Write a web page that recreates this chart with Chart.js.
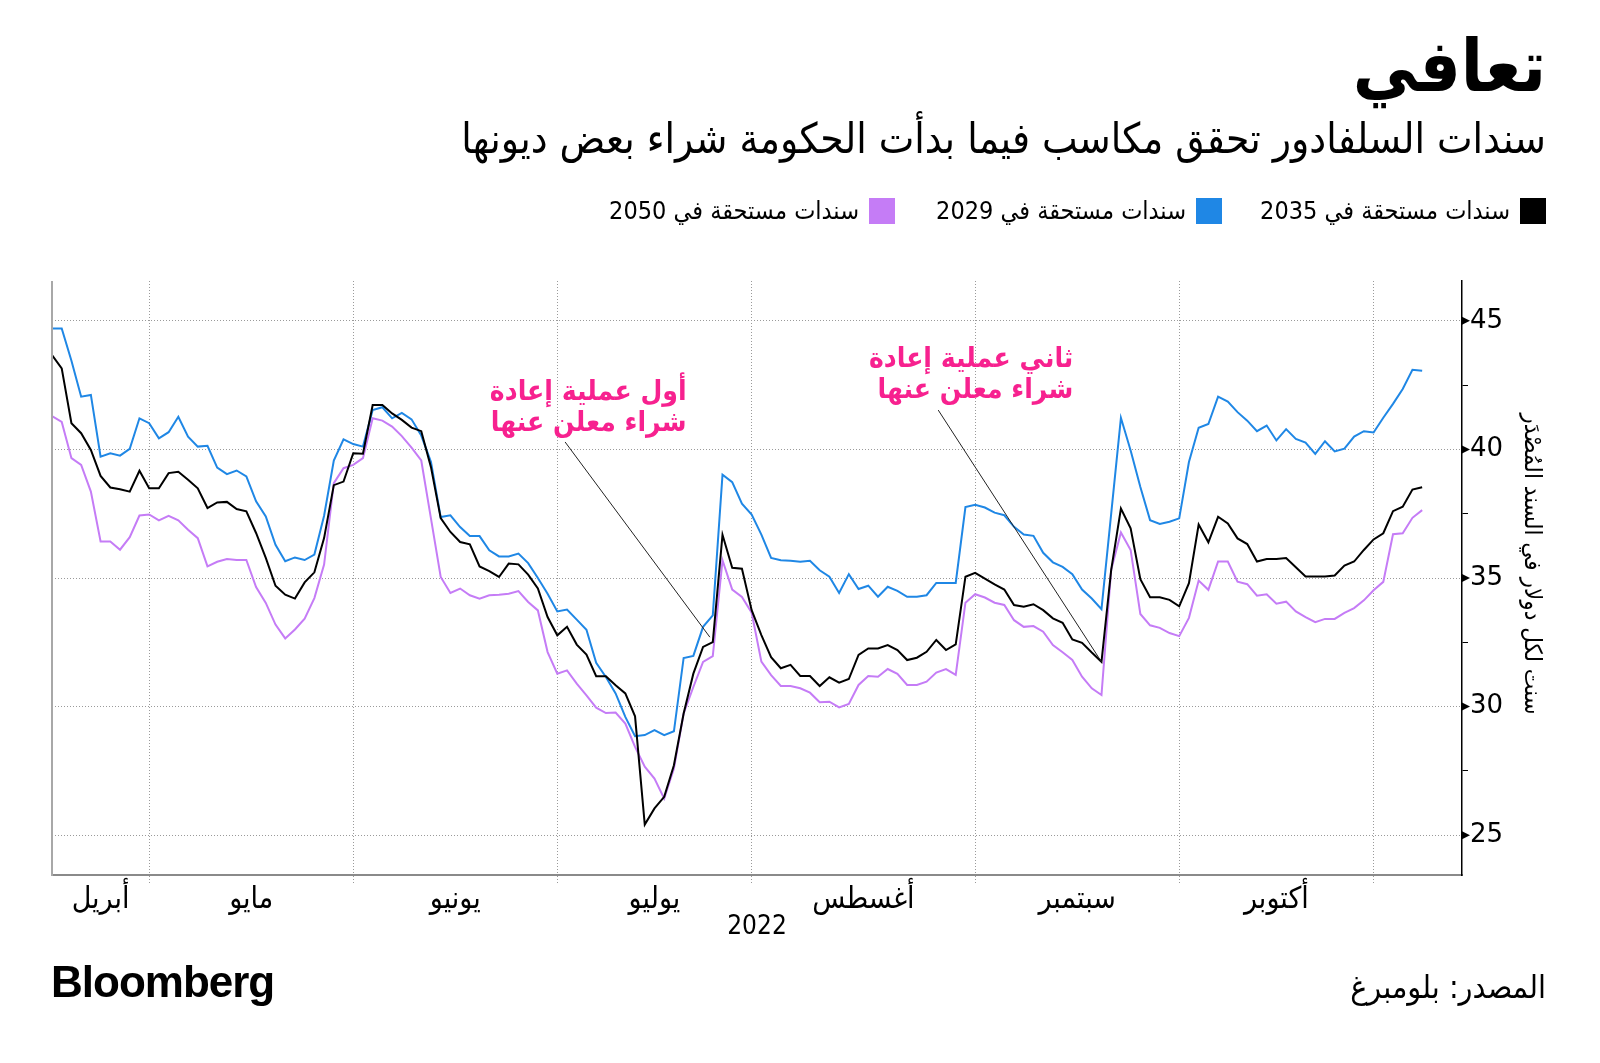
<!DOCTYPE html>
<html lang="ar">
<head>
<meta charset="utf-8">
<script src="https://cdn.jsdelivr.net/npm/chart.js@4/dist/chart.umd.min.js"></script>
<style>
html,body{margin:0;padding:0;background:#fff;}
#wrap{position:relative;width:1600px;height:1063px;overflow:hidden;background:#fff;}
#c{position:absolute;left:0;top:0;}
.ar{position:absolute;direction:rtl;white-space:nowrap;color:#000;font-family:'DejaVu Sans Condensed','DejaVu Sans',sans-serif;}
#title{right:54px;top:30px;font-size:72px;line-height:72px;font-weight:bold;}
#subtitle{right:54px;top:118px;font-size:42px;line-height:42px;}
.leg{top:196px;display:flex;flex-direction:row;align-items:center;gap:10px;font-size:25px;line-height:30px;}
.sw{display:inline-block;width:26px;height:26px;}
#brand{position:absolute;left:51px;top:960px;font-family:'Liberation Sans',Arial,sans-serif;font-weight:bold;font-size:44px;line-height:44px;letter-spacing:-1px;color:#000;}
#source{right:54px;top:969px;font-size:32px;line-height:36px;}
</style>
</head>
<body>
<div id="wrap">
<canvas id="c" width="1600" height="1063"></canvas>
<div id="title" class="ar">تعافي</div>
<div id="subtitle" class="ar">سندات السلفادور تحقق مكاسب فيما بدأت الحكومة شراء بعض ديونها</div>
<div class="ar leg" style="right:54px"><span class="sw" style="background:#000000"></span><span>سندات مستحقة في 2035</span></div>
<div class="ar leg" style="right:378px"><span class="sw" style="background:#1f87e5"></span><span>سندات مستحقة في 2029</span></div>
<div class="ar leg" style="right:705px"><span class="sw" style="background:#c57cf6"></span><span>سندات مستحقة في 2050</span></div>
<div id="brand">Bloomberg</div>
<div id="source" class="ar">المصدر: بلومبرغ</div>
</div>
<script>
// ---- DATA (one value per trading day, mid-April to early November 2022) ----
const bond2035 = [43.67,43.15,41.02,40.63,39.98,38.97,38.52,38.45,38.36,39.17,
  38.49,38.49,39.08,39.13,38.82,38.49,37.72,37.94,37.96,37.68,
  37.59,36.75,35.78,34.70,34.35,34.20,34.83,35.22,36.55,38.61,
  38.75,39.85,39.83,41.73,41.73,41.40,41.15,40.85,40.71,39.31,
  37.33,36.79,36.40,36.31,35.45,35.27,35.04,35.56,35.53,35.13,
  34.59,33.48,32.77,33.10,32.41,32.02,31.18,31.18,30.83,30.51,
  29.62,25.41,26.04,26.49,27.72,29.73,31.28,32.32,32.51,36.68,
  35.40,35.36,33.75,32.78,31.92,31.49,31.62,31.19,31.19,30.80,
  31.14,30.93,31.07,32.01,32.26,32.26,32.39,32.20,31.81,31.90,
  32.13,32.59,32.20,32.42,35.05,35.20,34.98,34.75,34.55,33.95,
  33.88,33.98,33.75,33.43,33.26,32.61,32.48,32.10,31.74,35.32,
  37.70,36.93,34.95,34.25,34.25,34.15,33.90,34.80,37.08,36.39,
  37.38,37.12,36.54,36.32,35.64,35.74,35.74,35.78,35.42,35.06,
  35.06,35.06,35.10,35.48,35.64,36.09,36.50,36.74,37.60,37.77,
  38.44,38.53];
const bond2029 = [44.70,44.70,43.45,42.05,42.12,39.72,39.85,39.76,40.02,41.21,
  41.02,40.43,40.67,41.27,40.50,40.11,40.14,39.29,39.04,39.18,
  38.95,37.98,37.39,36.29,35.65,35.80,35.70,35.91,37.42,39.57,
  40.39,40.21,40.11,41.53,41.64,41.21,41.42,41.17,40.54,39.51,
  37.37,37.44,36.98,36.63,36.63,36.08,35.84,35.84,35.95,35.58,
  35.00,34.39,33.70,33.77,33.38,32.99,31.70,31.15,30.51,29.60,
  28.85,28.89,29.08,28.89,29.04,31.89,31.97,33.10,33.55,39.02,
  38.73,37.89,37.47,36.69,35.78,35.69,35.67,35.63,35.67,35.30,
  35.05,34.42,35.15,34.57,34.70,34.27,34.66,34.50,34.27,34.27,
  34.33,34.81,34.81,34.81,37.76,37.85,37.74,37.54,37.44,36.99,
  36.69,36.64,35.98,35.61,35.43,35.15,34.55,34.20,33.79,37.50,
  41.23,39.96,38.54,37.25,37.10,37.19,37.32,39.51,40.84,40.99,
  42.05,41.86,41.45,41.12,40.71,40.93,40.35,40.79,40.41,40.27,
  39.83,40.32,39.92,40.03,40.50,40.71,40.66,41.23,41.77,42.35,
  43.10,43.06];
const bond2050 = [41.30,41.07,39.66,39.40,38.36,36.42,36.42,36.10,36.59,37.43,
  37.47,37.24,37.42,37.24,36.88,36.55,35.45,35.63,35.74,35.70,
  35.70,34.65,34.03,33.19,32.65,33.00,33.42,34.22,35.52,38.69,
  39.27,39.40,39.66,41.21,41.12,40.89,40.52,40.07,39.57,37.31,
  35.04,34.42,34.59,34.33,34.20,34.33,34.35,34.39,34.49,34.07,
  33.74,32.12,31.28,31.41,30.89,30.44,29.96,29.75,29.77,29.34,
  28.43,27.66,27.20,26.42,27.59,29.73,30.76,31.74,31.96,35.69,
  34.55,34.26,33.65,31.75,31.22,30.80,30.80,30.71,30.54,30.17,
  30.19,29.97,30.10,30.84,31.19,31.16,31.46,31.27,30.84,30.84,
  30.97,31.32,31.46,31.23,34.04,34.37,34.24,34.04,33.95,33.36,
  33.10,33.13,32.91,32.39,32.11,31.81,31.16,30.71,30.45,35.32,
  36.77,36.09,33.60,33.16,33.06,32.86,32.74,33.45,34.90,34.54,
  35.64,35.64,34.86,34.76,34.31,34.37,34.00,34.08,33.70,33.48,
  33.28,33.41,33.41,33.64,33.83,34.13,34.52,34.85,36.70,36.74,
  37.34,37.64];
const seriesNames = ['سندات مستحقة في 2035','سندات مستحقة في 2029','سندات مستحقة في 2050'];
const monthNames = ['أبريل','مايو','يونيو','يوليو','أغسطس','سبتمبر','أكتوبر'];
const monthStartIdx = [10,31,52,72,95,116,136];   // trading-day index of each month's first day
const yearLabel = '2022';
const yTickValues = [25,27.5,30,32.5,35,37.5,40,42.5,45];
const yLabelValues = [25,30,35,40,45];
const yAxisTitle = 'سنت لكل دولار في السند المُصْدَر';
const notes = [
  {lines:['أول عملية إعادة','شراء معلن عنها'], text:[65.3,41.92], from:[52.8,40.29], to:[67.7,32.70]},
  {lines:['ثاني عملية إعادة','شراء معلن عنها'], text:[105.1,43.21], from:[91.2,41.53], to:[108,31.74]}
];

// ---- derived ----
const monthLabelPos = monthNames.map((m,i)=> i===0 ? monthStartIdx[0]/2 : (monthStartIdx[i-1]+monthStartIdx[i])/2);
const xy = arr => arr.map((v,i)=>({x:i,y:v}));
const AR_FONT = "'DejaVu Sans Condensed','DejaVu Sans',sans-serif";
const GRID = '#9a9a9a';

const decor = {
  id:'decor',
  afterDraw(chart){
    const {ctx, chartArea:a, scales:{x,y}} = chart;
    ctx.save();
    // left frame line
    ctx.strokeStyle = '#a8a8a8'; ctx.lineWidth = 2;
    ctx.beginPath(); ctx.moveTo(a.left, a.top); ctx.lineTo(a.left, a.bottom+1); ctx.stroke();
    // triangle markers on labelled y ticks
    ctx.fillStyle = '#000';
    yLabelValues.forEach(v=>{
      const py = y.getPixelForValue(v);
      ctx.beginPath(); ctx.moveTo(a.right, py-4); ctx.lineTo(a.right+8, py); ctx.lineTo(a.right, py+4); ctx.closePath(); ctx.fill();
    });
    // y-axis title (rotated clockwise, right of the tick labels)
    ctx.save();
    ctx.translate(y.right - 17, (a.top + a.bottom)/2 - 14);
    ctx.rotate(Math.PI/2);
    ctx.fillStyle = '#000';
    ctx.font = "24px " + AR_FONT;
    ctx.direction = 'rtl';
    ctx.textAlign = 'center';
    ctx.textBaseline = 'middle';
    ctx.fillText(yAxisTitle, 0, 0);
    ctx.restore();
    // annotations
    notes.forEach(n=>{
      ctx.strokeStyle = '#222'; ctx.lineWidth = 1;
      ctx.beginPath();
      ctx.moveTo(x.getPixelForValue(n.from[0]), y.getPixelForValue(n.from[1]));
      ctx.lineTo(x.getPixelForValue(n.to[0]), y.getPixelForValue(n.to[1]));
      ctx.stroke();
      ctx.fillStyle = '#f7218f';
      ctx.font = "bold 28px " + AR_FONT;
      ctx.direction = 'rtl';
      ctx.textAlign = 'right';
      ctx.textBaseline = 'alphabetic';
      const tx = x.getPixelForValue(n.text[0]);
      const ty = y.getPixelForValue(n.text[1]);
      n.lines.forEach((t,i)=> ctx.fillText(t, tx, ty + i*31));
    });
    ctx.restore();
  }
};

new Chart(document.getElementById('c'), {
  type:'line',
  data:{
    datasets:[
      {label:seriesNames[0], data:xy(bond2035), borderColor:'#000000', borderWidth:2},
      {label:seriesNames[1], data:xy(bond2029), borderColor:'#1f87e5', borderWidth:2},
      {label:seriesNames[2], data:xy(bond2050), borderColor:'#c57cf6', borderWidth:2}
    ]
  },
  options:{
    responsive:false,
    devicePixelRatio:1,
    animation:false,
    events:[],
    layout:{padding:{left:52, top:281, right:52, bottom:118}},
    elements:{point:{radius:0}, line:{tension:0, borderJoinStyle:'miter'}},
    plugins:{legend:{display:false}, tooltip:{enabled:false}, title:{display:false}},
    scales:{
      x:{
        type:'linear', min:0, max:145.1,
        afterFit(s){ s.height = 70; },
        afterBuildTicks(s){
          s.ticks = [...monthStartIdx, ...monthLabelPos].sort((a,b)=>a-b).map(v=>({value:v}));
        },
        ticks:{
          autoSkip:false, maxRotation:0, minRotation:0, padding:-1,
          color:'#000', font:{family:AR_FONT, size:30},
          callback(v){ const k = monthLabelPos.indexOf(v); return k>=0 ? monthNames[k] : ''; }
        },
        grid:{
          drawTicks:true, tickLength:8, lineWidth:1,
          color:c=> (c.tick && monthStartIdx.includes(c.tick.value)) ? GRID : 'rgba(0,0,0,0)',
          tickColor:c=> (c.tick && monthStartIdx.includes(c.tick.value)) ? GRID : 'rgba(0,0,0,0)',
          tickBorderDash:[1,2]
        },
        border:{display:true, color:'#8a8a8a', width:2, dash:[1,2]},
        title:{display:true, text:yearLabel, color:'#000', font:{family:AR_FONT, size:26}, padding:{top:0, bottom:2}}
      },
      y:{
        type:'linear', position:'right', min:23.45, max:46.55,
        afterFit(s){ s.width = 86; },
        afterBuildTicks(s){ s.ticks = yTickValues.map(v=>({value:v})); },
        ticks:{
          padding:2, color:'#000', font:{family:"'DejaVu Sans',sans-serif", size:26},
          callback(v){ return yLabelValues.includes(v) ? String(v) : ''; }
        },
        grid:{
          drawTicks:true, tickLength:6, lineWidth:1,
          color:c=> (c.tick && yLabelValues.includes(c.tick.value)) ? GRID : 'rgba(0,0,0,0)',
          tickColor:'#000'
        },
        border:{display:true, color:'#000', width:1.5, dash:[1,2]},
        title:{display:false, text:yAxisTitle}
      }
    }
  },
  plugins:[decor]
});
</script>
</body>
</html>
